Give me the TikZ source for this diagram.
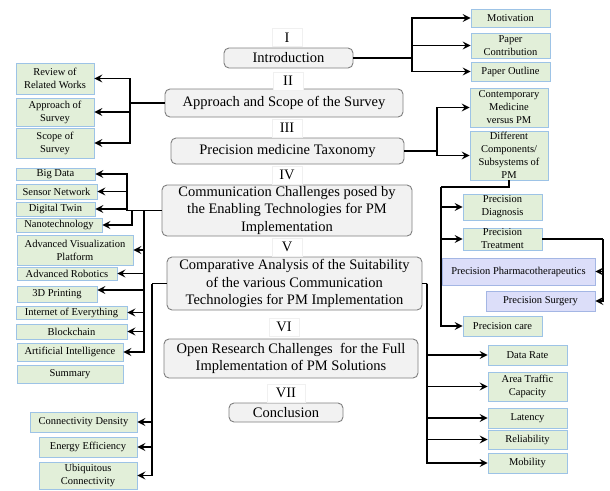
\documentclass[tikz,border=0pt]{standalone}
\usepackage{fontspec}
\setmainfont{Liberation Serif}
\usetikzlibrary{arrows.meta}
\definecolor{leafgreen}{HTML}{E2EFD9}
\definecolor{leafedge}{HTML}{9DC3E6}
\definecolor{leaflav}{HTML}{DCDEF9}
\definecolor{lavedge}{HTML}{A4B6E4}
\definecolor{secfill}{HTML}{F2F2F2}
\definecolor{secedge}{HTML}{7F7F7F}
% box given by its corners: style, x1, y1, x2, y2, name, text
\newcommand{\pbox}[7]{\node[#1,minimum width={#4-#2},minimum height={#5-#3}] (#6) at ({(#2+#4)/2},{(#3+#5)/2}) {#7};}
\begin{document}
\begin{tikzpicture}[x=1pt,y=-1pt,
  sec/.style={draw=secedge, fill=secfill, rounded corners=5pt, line width=0.9pt,
    font=\fontsize{14.5}{17.5}\selectfont, align=center, inner sep=0pt},
  num/.style={draw=black!6, fill=white, font=\fontsize{14.5}{17}\selectfont,
    inner sep=0pt, minimum width=30, minimum height=18},
  leaf/.style={draw=leafedge, fill=leafgreen, line width=0.8pt,
    font=\fontsize{10.5}{13}\selectfont, align=center, inner sep=0pt},
  lav/.style={leaf, draw=lavedge, fill=leaflav},
  conn/.style={line width=1.6pt, black},
  arr/.style={conn, -{Stealth[length=8pt,width=8pt,inset=3pt]}}]
\useasboundingbox (0,0) rectangle (610,490);

% main sections
\pbox{sec}{224}{48}{353}{68}{intro}{Introduction}
\pbox{sec}{165}{89}{403}{117}{approach}{Approach and Scope of the Survey}
\pbox{sec}{171}{138}{404}{164}{taxo}{Precision medicine Taxonomy}
\pbox{sec}{162}{185}{412}{236}{comm}{Communication Challenges posed by\\the Enabling Technologies for PM\\Implementation}
\pbox{sec}{167}{257}{422}{310}{comp}{Comparative Analysis of the Suitability\\of the various Communication\\Technologies for PM Implementation}
\pbox{sec}{164}{339}{418}{378}{open}{Open Research Challenges\ \ for the Full\\Implementation of PM Solutions}
\pbox{sec}{229}{403}{343}{422}{concl}{Conclusion}

% section numbers
\node[num] (nI) at (287,37.5) {I};
\node[num] (nII) at (288,81) {II};
\node[num] (nIII) at (287,128) {III};
\node[num] (nIV) at (287,175) {IV};
\node[num] (nV) at (287,247) {V};
\node[num] (nVI) at (284,327) {VI};
\node[num, minimum width=38] (nVII) at (286,393) {VII};

% leaves on the left
\pbox{leaf}{16}{63}{94}{94}{review}{Review of\\Related Works}
\pbox{leaf}{16}{98}{94}{126}{appsurv}{Approach of\\Survey}
\pbox{leaf}{16}{128}{94}{158}{scope}{Scope of\\Survey}
\pbox{leaf}{16}{168}{95}{180}{bigdata}{Big Data}
\pbox{leaf}{16}{184}{97}{199}{sensor}{Sensor Network}
\pbox{leaf}{16}{202}{95}{216}{dtwin}{Digital Twin}
\pbox{leaf}{16}{218}{102}{232}{nano}{Nanotechnology}
\pbox{leaf}{17}{235}{133}{265}{avis}{Advanced Visualization\\Platform}
\pbox{leaf}{17}{267}{117}{280}{robot}{Advanced Robotics}
\pbox{leaf}{17}{286}{97}{302}{print}{3D Printing}
\pbox{leaf}{16}{306}{127}{319}{ioe}{Internet of Everything}
\pbox{leaf}{16}{324}{127}{339}{block}{Blockchain}
\pbox{leaf}{17}{343}{123}{361}{ai}{Artificial Intelligence}
\pbox{leaf}{17}{365}{123}{383}{summary}{Summary}
\pbox{leaf}{30}{412}{137}{432}{density}{Connectivity Density}
\pbox{leaf}{39}{437}{137}{457}{energy}{Energy Efficiency}
\pbox{leaf}{39}{462}{137}{489}{ubiq}{Ubiquitous\\Connectivity}

% leaves on the right
\pbox{leaf}{471}{9}{550}{27}{motiv}{Motivation}
\pbox{leaf}{471}{33}{550}{58}{contrib}{Paper\\Contribution}
\pbox{leaf}{471}{62}{550}{81}{outline}{Paper Outline}
\pbox{leaf}{470}{88}{548}{127}{contemp}{Contemporary\\Medicine\\versus PM}
\pbox{leaf}{470}{131}{548}{180}{diff}{Different\\Components/\\Subsystems of\\PM}
\pbox{leaf}{463}{194}{542}{220}{diag}{Precision\\Diagnosis}
\pbox{leaf}{463}{228}{542}{250}{treat}{Precision\\Treatment}
\pbox{lav}{442}{258}{595}{285}{pharma}{Precision Pharmacotherapeutics}
\pbox{lav}{486}{291}{595}{311}{surgery}{Precision Surgery}
\pbox{leaf}{463}{316}{542}{336}{care}{Precision care}
\pbox{leaf}{488}{345}{567}{365}{rate}{Data Rate}
\pbox{leaf}{488}{372}{567}{401}{area}{Area Traffic\\Capacity}
\pbox{leaf}{488}{408}{567}{428}{latency}{Latency}
\pbox{leaf}{488}{430}{567}{449}{reliab}{Reliability}
\pbox{leaf}{488}{453}{567}{473}{mobility}{Mobility}

% junction points
\coordinate (jIntro) at (412,58);
\coordinate (jApp) at (130,103);
\coordinate (jTaxo) at (437,151);
\coordinate (jSub) at (441,187);
\coordinate (jTreat) at (603,239);
\coordinate (jCommA) at (127,210.5);
\coordinate (jCommB) at (132,210.5);
\coordinate (jCommC) at (144,210.5);
\coordinate (jCompL) at (152,283.5);
\coordinate (jCompR) at (427,283.5);

% I
\draw[conn] (intro.east) -- (jIntro);
\foreach \t in {motiv,contrib,outline} \draw[arr] (jIntro) |- (\t.west);
% II
\draw[conn] (approach.west) -- (jApp);
\foreach \t in {review,appsurv,scope} \draw[arr] (jApp) |- (\t.east);
% III
\draw[conn] (taxo.east) -- (jTaxo);
\foreach \t in {contemp,diff} \draw[arr] (jTaxo) |- (\t.west);
\draw[conn] (diff.south) |- (jSub);
\foreach \t in {diag,treat,care} \draw[arr] (jSub) |- (\t.west);
\draw[conn] (treat.east) -- (jTreat);
\foreach \t in {pharma,surgery} \draw[arr] (jTreat) |- (\t.east);
% IV
\draw[conn] (comm.west) -- (jCommA);
\foreach \t in {bigdata,sensor,dtwin} \draw[arr] (jCommA) |- (\t.east);
\draw[arr] (jCommB) |- (nano.east);
\foreach \t in {avis,robot,ioe,block,ai} \draw[arr] (jCommC) |- (\t.east);
\draw[arr] (jCommC) |- ([yshift=4pt]print.east);
% V
\draw[conn] (comp.west) -- (jCompL);
\foreach \t in {density,energy,ubiq} \draw[arr] (jCompL) |- (\t.east);
\draw[conn] (comp.east) -- (jCompR);
\foreach \t in {rate,area,latency,reliab,mobility} \draw[arr] (jCompR) |- (\t.west);
\end{tikzpicture}
\end{document}
